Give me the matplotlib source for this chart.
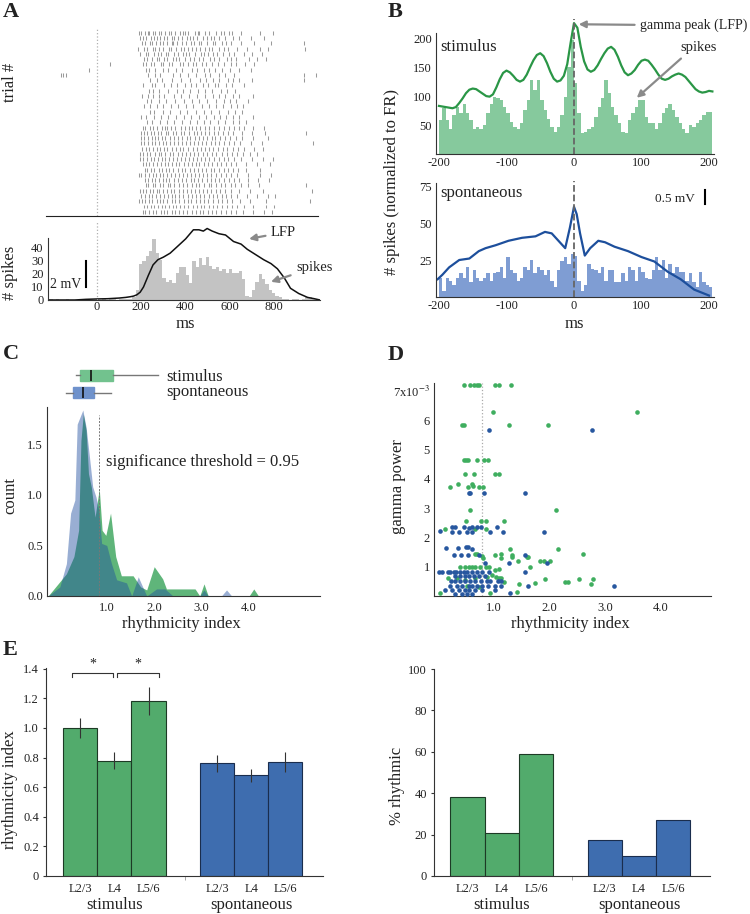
import matplotlib
matplotlib.use("Agg")
import matplotlib.pyplot as plt
from matplotlib.lines import Line2D
import numpy as np

plt.rcParams['font.family'] = ['Liberation Serif', 'DejaVu Serif']
plt.rcParams['mathtext.fontset'] = 'stix'
plt.rcParams['text.color'] = '#222222'
plt.rcParams['axes.edgecolor'] = '#333333'
plt.rcParams['xtick.color'] = '#333333'
plt.rcParams['ytick.color'] = '#333333'
plt.rcParams['xtick.labelcolor'] = '#222222'
plt.rcParams['ytick.labelcolor'] = '#222222'

# ---------------- data ----------------
# A: raster (spike times in ms, one list per trial)
raster = [
    [190, 199, 214, 229, 233, 251, 262, 281, 290, 307, 326, 335, 351, 372, 389, 395, 412, 440, 457, 462, 489, 503, 538, 560, 574, 597, 608, 648, 736, 793],
    [195, 208, 220, 244, 256, 271, 285, 303, 317, 338, 349, 366, 381, 404, 417, 431, 452, 479, 494, 516, 527, 551, 579, 612, 640, 695, 751],
    [202, 217, 238, 247, 266, 284, 296, 314, 337, 343, 361, 384, 399, 423, 436, 458, 470, 498, 521, 533, 562, 582, 603, 651, 710, 785, 934],
    [186, 213, 226, 251, 260, 279, 298, 325, 334, 356, 378, 391, 409, 428, 447, 465, 486, 507, 519, 548, 571, 590, 631, 675, 733, 770, 937],
    [194, 222, 231, 255, 273, 288, 311, 321, 347, 363, 386, 402, 415, 441, 468, 481, 499, 524, 539, 566, 597, 618, 661, 698, 745],
    [211, 227, 246, 268, 280, 302, 316, 342, 355, 371, 397, 420, 437, 459, 476, 510, 529, 552, 586, 604, 629, 684, 722, 760],
    [60, 205, 219, 243, 257, 286, 299, 326, 340, 372, 388, 411, 431, 448, 473, 492, 518, 545, 573, 606, 628, 669, 707],
    [-36, 222, 236, 262, 297, 319, 358, 383, 427, 451, 484, 506, 534, 563, 601, 642, 693],
    [-163, -155, -140, 228, 259, 283, 341, 376, 412, 448, 487, 511, 552, 579, 618, 934, 989],
    [239, 271, 292, 336, 379, 418, 466, 490, 521, 548, 589, 611, 642, 701, 936],
    [207, 246, 263, 301, 332, 361, 397, 424, 446, 478, 502, 533, 547, 581, 607, 663],
    [233, 252, 279, 318, 359, 388, 421, 456, 489, 517, 559, 586, 622],
    [204, 229, 253, 277, 302, 347, 379, 414, 452, 487, 522, 549, 576, 612, 640, 705],
    [227, 244, 278, 311, 353, 392, 427, 461, 495, 538, 571, 599, 627, 683],
    [213, 238, 268, 296, 335, 367, 402, 433, 473, 505, 538, 567, 603, 631, 658],
    [237, 258, 297, 331, 372, 404, 445, 481, 513, 552, 590, 623, 652],
    [199, 221, 255, 286, 322, 357, 391, 423, 462, 493, 528, 556, 583, 614, 641, 702],
    [224, 249, 283, 317, 348, 384, 420, 452, 482, 511, 547, 578, 612, 640, 671],
    [208, 216, 238, 252, 269, 291, 305, 317, 333, 352, 378, 396, 413, 429, 447, 464, 489, 507, 528, 549, 572, 594, 619, 640, 664, 702, 752],
    [196, 212, 226, 242, 258, 273, 290, 309, 322, 343, 358, 378, 394, 414, 435, 451, 469, 489, 506, 526, 547, 570, 589, 612, 653, 698, 757, 941],
    [197, 210, 228, 246, 259, 275, 294, 308, 327, 349, 366, 383, 405, 421, 440, 462, 479, 495, 517, 534, 556, 577, 600, 628, 652, 704, 772],
    [200, 213, 231, 247, 263, 281, 296, 312, 331, 349, 364, 383, 401, 419, 438, 457, 474, 492, 512, 531, 549, 571, 593, 618, 647, 695, 742, 976],
    [203, 221, 233, 250, 271, 284, 303, 316, 338, 355, 374, 389, 409, 433, 450, 468, 487, 504, 523, 544, 568, 587, 611, 635, 662, 707, 748],
    [193, 207, 224, 240, 263, 277, 289, 306, 329, 341, 364, 384, 399, 418, 436, 455, 478, 497, 519, 538, 563, 584, 607, 631, 657, 691, 723],
    [194, 207, 225, 242, 258, 276, 292, 308, 324, 343, 359, 378, 396, 414, 433, 452, 471, 489, 507, 527, 549, 571, 592, 616, 650, 697, 747, 796],
    [209, 219, 236, 254, 272, 288, 306, 321, 339, 356, 371, 392, 410, 430, 448, 461, 483, 501, 519, 540, 561, 583, 606, 629, 670, 722, 782],
    [215, 226, 243, 257, 280, 292, 311, 323, 344, 367, 381, 398, 417, 438, 457, 474, 491, 512, 529, 551, 574, 591, 613, 637, 672, 737],
    [189, 200, 216, 232, 251, 267, 284, 299, 314, 333, 352, 368, 386, 406, 423, 440, 461, 478, 497, 516, 536, 558, 580, 605, 633, 680, 737, 786],
    [218, 229, 247, 262, 279, 297, 312, 326, 348, 365, 383, 403, 422, 439, 457, 473, 494, 513, 531, 552, 573, 596, 617, 642, 683, 727, 777],
    [219, 230, 251, 263, 282, 299, 318, 329, 346, 369, 387, 404, 427, 448, 459, 481, 503, 514, 537, 558, 579, 602, 624, 648, 683, 731, 941],
    [192, 205, 221, 238, 253, 268, 281, 298, 317, 333, 349, 369, 387, 406, 425, 441, 459, 478, 496, 514, 535, 556, 578, 603, 642, 688, 747, 971],
    [199, 214, 232, 248, 266, 283, 301, 318, 336, 353, 371, 389, 409, 428, 447, 466, 484, 503, 523, 542, 562, 583, 605, 631, 677, 722, 772, 801],
    [189, 204, 218, 236, 249, 268, 283, 297, 314, 337, 352, 371, 392, 408, 425, 446, 463, 484, 502, 521, 545, 563, 586, 608, 644, 692, 762, 962],
    [212, 224, 242, 256, 275, 291, 304, 323, 341, 357, 376, 391, 412, 433, 449, 467, 484, 505, 524, 541, 562, 585, 609, 633, 661, 705, 762, 800],
    [206, 218, 236, 251, 266, 286, 301, 317, 337, 352, 369, 389, 407, 426, 445, 463, 480, 499, 518, 538, 559, 580, 602, 627, 657, 702, 752, 791],
]

# A: PSTH, 15 ms bins starting at -215 ms
psth_start = -215
psth_width = 15
psth_counts = [1, 0, 1, 0, 0, 1, 0, 0, 0, 1, 0, 0, 0, 0, 1, 0, 1, 0, 1, 1, 0, 1, 1, 1, 1, 2,
               8, 28, 30, 34, 38, 47, 36, 31, 17, 14, 15, 13, 21, 25, 25, 19, 13, 30, 25, 32,
               27, 33, 26, 24, 25, 22, 24, 21, 24, 21, 21, 22, 16, 3, 2, 8, 14, 20, 16, 12,
               8, 5, 3, 2, 1, 1, 0, 1, 1, 0, 1, 2, 2, 1, 1]
# A: LFP trace (in PSTH units)
lfp_ms = [-222, -150, -100, -50, 0, 50, 100, 130, 150, 165, 180, 195, 210, 232, 253, 275, 300,
          330, 362, 400, 435, 460, 480, 497, 520, 550, 580, 616, 650, 678, 715, 752, 785, 814,
          845, 873, 910, 950, 980, 1006]
lfp_val = [0, 0, 0, 0.5, 0.8, 1, 1.5, 2, 2.5, 3, 4, 6, 10, 19, 27, 31, 33, 36, 41, 47, 54, 54,
           53, 55, 53, 51, 50, 45, 43, 39, 35, 31, 28, 24, 17, 9, 5, 2, 1, 0]

# B: spike-triggered histograms, 5 ms bins from -200 ms
sta_start = -200
sta_width = 5
stim_spikes = [59, 79, 59, 44, 67, 82, 70, 87, 70, 59, 44, 47, 44, 50, 70, 87, 99, 96, 93, 82,
               70, 56, 47, 44, 53, 76, 93, 128, 110, 128, 93, 76, 61, 47, 38, 47, 67, 99, 151, 197,
               122, 70, 36, 38, 44, 47, 64, 82, 96, 128, 105, 82, 67, 53, 38, 36, 59, 70, 82, 93,
               93, 64, 53, 53, 44, 53, 70, 79, 87, 76, 64, 53, 44, 36, 50, 47, 53, 59, 67, 73, 73]
spont_spikes = [13, 4, 13, 11, 8, 13, 16, 13, 20, 10, 18, 13, 11, 13, 16, 11, 16, 17, 20, 13,
                27, 18, 16, 11, 13, 20, 18, 25, 16, 20, 18, 15, 18, 11, 7, 18, 24, 27, 22, 29,
                28, 11, 4, 8, 22, 19, 18, 16, 20, 11, 18, 18, 10, 10, 16, 11, 20, 18, 11, 20,
                17, 13, 12, 18, 27, 18, 25, 13, 22, 16, 20, 17, 17, 11, 16, 10, 7, 17, 10, 8, 7]
stim_lfp = [83, 82, 81, 80, 79, 81, 88, 96, 105, 111, 113, 112, 108, 104, 100, 99, 103, 115, 129, 140,
            144, 141, 135, 128, 125, 128, 137, 150, 162, 171, 174, 169, 157, 142, 130, 125, 127, 135, 155, 192,
            226, 218, 185, 160, 146, 142, 145, 153, 164, 174, 182, 185, 180, 168, 153, 141, 136, 139, 145, 154,
            161, 163, 161, 154, 146, 137, 130, 128, 130, 134, 137, 139, 137, 133, 126, 119, 112, 108, 106, 107,
            109, 108]
spont_lfp_ms = [-202, -195, -185, -170, -155, -141, -131, -116, -97, -77, -57, -43, -33, -23, -13, -6,
                0, 4, 9, 16, 24, 36, 46, 60, 80, 100, 119, 139, 158, 178, 200]
spont_lfp = [12, 15, 20, 25, 26, 31, 33, 35, 38, 40, 41, 44, 43, 38, 33, 47, 61, 56, 43, 28, 33, 38,
             37, 34, 31, 27, 24, 17, 12, 5, 1]

# C: rhythmicity index distributions
stim_ri_x = [-0.26, 0.13, 0.29, 0.39, 0.44, 0.49, 0.55, 0.60, 0.66, 0.74, 0.83, 0.89, 0.97, 1.07,
             1.18, 1.30, 1.55, 1.71, 1.84, 2.00, 2.18, 2.26, 2.87, 2.97, 3.06, 3.15, 4.02, 4.12,
             4.22, 5.52]
stim_ri_y = [0, 0.22, 0.39, 0.65, 1.54, 1.80, 1.64, 1.21, 1.08, 0.78, 1.06, 0.65, 0.60, 0.82,
             0.39, 0.20, 0.20, 0.09, 0.06, 0.29, 0.17, 0.07, 0.07, 0, 0.12, 0, 0, 0.07, 0, 0]
spont_ri_x = [-0.26, -0.01, 0.13, 0.22, 0.31, 0.36, 0.48, 0.55, 0.62, 0.69, 0.76, 0.82, 0.88, 0.99,
              1.09, 1.20, 1.41, 1.52, 1.66, 1.84, 2.05, 2.23, 2.40, 2.97, 3.06, 3.15, 3.43, 3.54,
              3.65, 5.52]
spont_ri_y = [0, 0.09, 0.32, 0.82, 0.95, 1.70, 1.84, 1.67, 1.38, 1.08, 0.98, 0.85, 0.52, 0.50,
              0.32, 0.16, 0.13, 0, 0.19, 0, 0.07, 0.07, 0, 0, 0.06, 0, 0, 0.06, 0, 0]
stim_box = dict(whislo=0.33, q1=0.42, med=0.65, q3=1.13, whishi=2.09)
spont_box = dict(whislo=0.12, q1=0.28, med=0.48, q3=0.72, whishi=1.08)
threshold = 0.83

# D: rhythmicity index vs gamma power
stim_pts_x = [0.46, 0.58, 0.64, 0.70, 0.74, 1.02, 1.09, 1.32,
              0.99, 0.44, 0.47, 1.27, 1.98, 3.57,
              0.46, 0.50, 0.54, 0.70, 0.82, 0.90,
              0.49, 0.65, 1.02, 1.10,
              0.22, 0.36, 0.54, 0.62, 0.63, 0.74, 0.81,
              0.58, 2.11,
              0.50, 0.77, 0.86, 1.18,
              0.12, 0.67, 0.87,
              0.67, 0.71, 0.79, 0.81, 1.03, 1.13, 1.33, 1.14, 1.30, 1.33, 1.59, 1.61, 1.66, 1.83, 1.90, 2.02, 2.16, 2.61, 1.44,
              0.40, 0.49, 0.56, 0.62, 0.67, 0.76, 0.86, 0.91, 1.02, 1.10,
              0.18, 0.34, 0.48, 0.67, 0.88, 0.97, 1.04, 1.09, 1.14, 1.19, 1.46, 1.74, 1.93, 2.28, 2.34, 2.53, 2.74, 2.78,
              0.04, 0.94, 1.42, 0.73, 0.52]
stim_pts_y = [7.2, 7.2, 7.2, 7.2, 7.2, 7.2, 7.2, 7.2,
              6.28, 5.83, 5.83, 5.83, 5.83, 6.28,
              4.64, 4.64, 4.64, 4.64, 4.64, 4.64,
              4.15, 4.15, 4.15, 4.15,
              3.73, 3.82, 3.73, 3.82, 3.76, 3.73, 3.73,
              2.93, 2.93,
              2.57, 2.57, 2.57, 2.57,
              2.27, 2.27, 2.27,
              1.45, 1.45, 1.36, 1.28, 1.40, 1.43, 1.40, 1.28, 1.59, 1.34, 1.34, 1.32, 1.00, 1.18, 1.18, 1.18, 1.59, 1.43, 1.18,
              1.0, 1.0, 1.0, 1.0, 1.0, 1.0, 1.0, 1.0, 0.89, 0.91,
              0.63, 0.63, 0.55, 0.63, 0.66, 0.72, 0.66, 0.60, 0.60, 0.49, 0.41, 0.43, 0.58, 0.49, 0.49, 0.58, 0.41, 0.58,
              0.09, 0.11, 0.13, 0.32, 0.34]
spont_pts_x = [0.91, 2.77, 0.83, 1.56, 0.55, 0.58,
               0.04, 0.26, 0.31, 0.46, 0.62, 0.70, 0.78, 1.06, 0.55,
               0.26, 0.38, 0.52, 0.61, 0.94, 1.17, 1.90,
               0.14, 0.36, 0.50, 0.54, 0.61,
               0.29, 0.42, 0.54, 0.73, 1.57,
               1.27, 1.96,
               0.02, 0.07, 0.18, 0.22, 0.28, 0.32, 0.40, 0.46, 0.52, 0.61, 0.70, 0.80, 0.91, 1.57, 0.85,
               0.31, 0.40, 0.48, 0.55, 0.64, 0.73, 0.85,
               0.24, 0.30, 0.40, 0.49, 0.58, 0.67, 0.78, 0.88, 0.94, 1.08, 1.14,
               0.22, 0.34, 0.44, 0.55, 0.62, 0.70, 0.80, 0.90, 1.03, 1.13, 1.62, 3.16,
               0.12, 0.25, 0.38, 0.48, 0.56, 0.66, 0.79, 1.02, 1.30,
               0.31, 0.44, 0.53, 0.61]
spont_pts_y = [5.68, 5.66, 3.5, 3.5, 3.5, 3.5,
               2.22, 2.36, 2.36, 2.36, 2.36, 2.36, 2.36, 2.36, 2.31,
               2.17, 2.17, 2.17, 2.17, 2.17, 2.17, 2.17,
               1.65, 1.65, 1.68, 1.68, 1.62,
               1.40, 1.40, 1.40, 1.40, 1.40,
               1.14, 1.11,
               0.83, 0.83, 0.83, 0.83, 0.83, 0.83, 0.83, 0.83, 0.83, 0.83, 0.83, 0.83, 0.83, 0.83, 1.11,
               0.68, 0.68, 0.68, 0.68, 0.68, 0.68, 0.68,
               0.51, 0.51, 0.51, 0.51, 0.51, 0.51, 0.51, 0.51, 0.51, 0.51, 0.51,
               0.35, 0.35, 0.35, 0.35, 0.35, 0.35, 0.35, 0.35, 0.35, 0.35, 0.35, 0.35,
               0.19, 0.19, 0.19, 0.19, 0.19, 0.19, 0.19, 0.19, 0.09,
               0.07, 0.07, 0.07, 0.07]

# E: per layer
layers = ['L2/3', 'L4', 'L5/6']
stim_pos = [0, 1, 2]
spont_pos = [4, 5, 6]
stim_ri_mean = [1.00, 0.78, 1.18]
stim_ri_err = [0.065, 0.055, 0.095]
spont_ri_mean = [0.76, 0.68, 0.77]
spont_ri_err = [0.058, 0.045, 0.068]
stim_pct = [38.0, 21.0, 58.7]
spont_pct = [17.3, 9.8, 26.9]

GREEN = '#52ab6c'
BLUE = '#3e6daf'

# ---------------- layout helpers (pixel boxes) ----------------
W, H = 750, 914
fig = plt.figure(figsize=(7.5, 9.14), dpi=100)


def rect(x0, y0, x1, y1):
    return [x0 / W, 1 - y1 / H, (x1 - x0) / W, (y1 - y0) / H]


def ftext(x, y, s, **kw):
    fig.text(x / W, 1 - y / H, s, **kw)


def fbar(x, y0, y1):
    fig.add_artist(Line2D([x / W, x / W], [1 - y0 / H, 1 - y1 / H], color='k', lw=1.5))


def clean(ax):
    ax.spines['top'].set_visible(False)
    ax.spines['right'].set_visible(False)
    ax.tick_params(length=0, labelsize=9, pad=3)
    ax.patch.set_alpha(0)


arrow = dict(arrowstyle='-|>', color='#8a8a8a', lw=1.6, mutation_scale=10, shrinkA=2, shrinkB=0)

# ---------------- A ----------------
axr = fig.add_axes(rect(46, 28, 318, 216))
axr.eventplot(raster, lineoffsets=list(range(len(raster))), linelengths=0.75,
              colors='#999999', linewidths=0.75)
axr.set_xlim(-231, 997)
axr.set_ylim(len(raster) - 0.2, -0.9)
axr.axvline(0, color='#b0b0b0', ls=':', lw=0.9)
for s in ['top', 'right', 'left']:
    axr.spines[s].set_visible(False)
axr.spines['bottom'].set_color('#222222')
axr.set_xticks([])
axr.set_yticks([])
axr.patch.set_alpha(0)

axh = fig.add_axes(rect(47.7, 222, 320, 300))
clean(axh)
edges = psth_start + psth_width * np.arange(len(psth_counts))
axh.bar(edges, psth_counts, width=psth_width, align='edge', color='#c3c3c3', lw=0)
axh.plot(lfp_ms, lfp_val, color='#111111', lw=1.1)
axh.axvline(0, color='#b0b0b0', ls=':', lw=0.9)
axh.set_xlim(-222, 1006)
axh.set_ylim(0, 60)
axh.spines['left'].set_bounds(0, 48)
axh.set_yticks([0, 10, 20, 30, 40])
axh.set_xticks([0, 200, 400, 600, 800])
axh.tick_params(axis='x', pad=1)
axh.annotate('LFP', xy=(686, 47), xytext=(785, 52), fontsize=10.5, va='center',
             arrowprops=arrow, annotation_clip=False)
axh.annotate('spikes', xy=(785, 14), xytext=(898, 25), fontsize=10.5, va='center',
             arrowprops=arrow, annotation_clip=False)
ftext(81, 285, '2 mV', fontsize=10, ha='right', va='center')
fbar(85.5, 261, 287)
ftext(3, 2, 'A', fontsize=16, fontweight='bold', va='top')
ftext(10, 82, 'trial #', fontsize=12, rotation=90, ha='center', va='center')
ftext(10, 273, '# spikes', fontsize=12, rotation=90, ha='center', va='center')
ftext(185, 324, 'ms', fontsize=12, ha='center', va='center')

# ---------------- B ----------------
sta_edges = sta_start + sta_width * np.arange(len(stim_spikes))
lfp_t = sta_start + sta_width * np.arange(len(stim_lfp))

axb1 = fig.add_axes(rect(436, 15, 714, 154))
clean(axb1)
axb1.bar(sta_edges, stim_spikes, width=sta_width, align='edge', color='#86c99d', lw=0)
axb1.plot(lfp_t, stim_lfp, color='#2a9646', lw=1.6)
axb1.axvline(0, ymax=0.97, color='#666666', ls='--', lw=1.3)
axb1.set_xlim(-204.4, 207.4)
axb1.set_ylim(0, 240)
axb1.spines['left'].set_bounds(0, 209)
axb1.set_yticks([50, 100, 150, 200])
axb1.set_xticks([-200, -100, 0, 100, 200])
axb1.set_xticklabels(['-200', '-100', '0', '100', '200'])
axb1.tick_params(axis='x', pad=2)
axb1.text(-198, 184, 'stimulus', fontsize=12, va='center')
axb1.annotate('gamma peak (LFP)', xy=(7, 224), xytext=(98, 222), fontsize=10, va='center',
              arrowprops=arrow, annotation_clip=False)
axb1.annotate('spikes', xy=(93, 97), xytext=(212, 184), fontsize=10.5, va='center', ha='right',
              arrowprops=dict(arrow, relpos=(0.15, 0.0)), annotation_clip=False)

axb2 = fig.add_axes(rect(436, 181, 714, 297))
clean(axb2)
axb2.bar(sta_edges, spont_spikes, width=sta_width, align='edge', color='#7f9dd3', lw=0)
axb2.plot(spont_lfp_ms, spont_lfp, color='#1d4f9c', lw=1.6)
axb2.axvline(0, color='#666666', ls='--', lw=1.3)
axb2.set_xlim(-204.4, 207.4)
axb2.set_ylim(0, 78.4)
axb2.spines['left'].set_bounds(0, 77)
axb2.set_yticks([25, 50, 75])
axb2.set_xticks([-200, -100, 0, 100, 200])
axb2.set_xticklabels(['-200', '-100', '0', '100', '200'])
axb2.tick_params(axis='x', pad=2)
axb2.text(-198, 70, 'spontaneous', fontsize=12, va='center')
ftext(695, 199, '0.5 mV', fontsize=9.5, ha='right', va='center')
fbar(705, 190, 204)
ftext(388, 2, 'B', fontsize=16, fontweight='bold', va='top')
ftext(392, 182, '# spikes (normalized to FR)', fontsize=12, rotation=90, ha='center', va='center')
ftext(574, 324, 'ms', fontsize=12, ha='center', va='center')

# ---------------- C ----------------
axc = fig.add_axes(rect(47, 407, 320, 596))
clean(axc)
axc.fill_between(stim_ri_x, stim_ri_y, color='#5fb57a', lw=0)
axc.fill_between(spont_ri_x, spont_ri_y, color='#1e4d9e', alpha=0.45, lw=0)
axc.axvline(threshold, ymax=0.96, color='#777777', ls=(0, (2, 1.5)), lw=0.7)
axc.set_xlim(-0.283, 5.53)
axc.set_ylim(0, 1.87)
axc.set_yticks([0, 0.5, 1.0, 1.5])
axc.set_yticklabels(['0.0', '0.5', '1.0', '1.5'])
axc.set_xticks([1, 2, 3, 4])
axc.set_xticklabels(['1.0', '2.0', '3.0', '4.0'])
axc.tick_params(axis='x', pad=4)
axc.text(0.97, 1.33, 'significance threshold = 0.95', fontsize=12, va='center')

axbox = fig.add_axes(rect(47, 366, 320, 402))
axbox.set_xlim(-0.283, 5.53)
axbox.set_ylim(-0.55, 1.55)
bp = axbox.bxp([dict(spont_box, fliers=[]), dict(stim_box, fliers=[])], positions=[0, 1],
               vert=False, widths=0.62, showcaps=False, showfliers=False, patch_artist=True)
bp['boxes'][0].set(facecolor='#6f92cc', edgecolor='#6f92cc')
bp['boxes'][1].set(facecolor='#72c28e', edgecolor='#72c28e')
for wl in bp['whiskers']:
    wl.set(color='#777777', lw=1)
for m in bp['medians']:
    m.set(color='#111111', lw=1.2)
axbox.axis('off')
ftext(166, 377, 'stimulus', fontsize=12, va='center')
ftext(166, 392, 'spontaneous', fontsize=12, va='center')
ftext(3, 344, 'C', fontsize=16, fontweight='bold', va='top')
ftext(10, 495, 'count', fontsize=12, rotation=90, ha='center', va='center')
ftext(181, 624, 'rhythmicity index', fontsize=12, ha='center', va='center')

# ---------------- D ----------------
axd = fig.add_axes(rect(434, 383, 711, 596))
clean(axd)
axd.axvline(0.8, color='#aaaaaa', ls=':', lw=0.9)
axd.scatter(stim_pts_x, stim_pts_y, s=11, color='#3fae5f', lw=0, clip_on=False, zorder=3)
axd.scatter(spont_pts_x, spont_pts_y, s=11, color='#27579f', lw=0, clip_on=False, zorder=3)
axd.set_xlim(-0.07, 4.9)
axd.set_ylim(0, 7.27)
axd.set_yticks([1, 2, 3, 4, 5, 6, 7])
axd.set_yticklabels(['1', '2', '3', '4', '5', '6', r'7x10$^{-3}$'])
axd.set_xticks([1, 2, 3, 4])
axd.set_xticklabels(['1.0', '2.0', '3.0', '4.0'])
axd.tick_params(axis='x', pad=4)
ftext(388, 345, 'D', fontsize=16, fontweight='bold', va='top')
ftext(398, 487, 'gamma power', fontsize=12, rotation=90, ha='center', va='center')
ftext(570, 624, 'rhythmicity index', fontsize=12, ha='center', va='center')


# ---------------- E ----------------
def layer_bars(ax, stim_vals, spont_vals, stim_err=None, spont_err=None):
    ax.bar(stim_pos, stim_vals, width=1.0, color=GREEN, edgecolor='#1d3a25', lw=0.8)
    ax.bar(spont_pos, spont_vals, width=1.0, color=BLUE, edgecolor='#1a2d4d', lw=0.8)
    if stim_err is not None:
        ax.errorbar(stim_pos, stim_vals, yerr=stim_err, fmt='none', ecolor='#333333', elinewidth=0.8)
        ax.errorbar(spont_pos, spont_vals, yerr=spont_err, fmt='none', ecolor='#333333', elinewidth=0.8)
    ax.set_xticks(stim_pos + spont_pos)
    ax.set_xticklabels(layers + layers)
    ax.set_xticks([3.05], minor=True)
    ax.tick_params(axis='x', which='minor', length=3, color='#999999')
    ax.tick_params(axis='x', which='major', pad=5)
    tr = ax.get_xaxis_transform()
    ax.text(1, -0.14, 'stimulus', transform=tr, fontsize=12, ha='center', va='center')
    ax.text(5, -0.14, 'spontaneous', transform=tr, fontsize=12, ha='center', va='center')


axe1 = fig.add_axes(rect(46, 668, 323, 876))
clean(axe1)
layer_bars(axe1, stim_ri_mean, spont_ri_mean, stim_ri_err, spont_ri_err)
axe1.set_xlim(-1.0, 7.1)
axe1.set_ylim(0, 1.405)
axe1.set_yticks([0, 0.2, 0.4, 0.6, 0.8, 1.0, 1.2, 1.4])
axe1.set_yticklabels(['0', '0.2', '0.4', '0.6', '0.8', '1.0', '1.2', '1.4'])
axe1.tick_params(axis='y', length=2)
for x0, x1 in [(-0.25, 0.97), (1.09, 2.3)]:
    axe1.plot([x0, x0, x1, x1], [1.345, 1.37, 1.37, 1.345], color='#333333', lw=0.8, clip_on=False)
    axe1.text((x0 + x1) / 2, 1.43, '*', fontsize=10, ha='center', va='center', clip_on=False)
ftext(3, 640, 'E', fontsize=16, fontweight='bold', va='top')
ftext(10, 790, 'rhythmicity index', fontsize=12, rotation=90, ha='center', va='center')

axe2 = fig.add_axes(rect(434, 669, 710, 876))
clean(axe2)
layer_bars(axe2, stim_pct, spont_pct)
axe2.set_xlim(-0.98, 7.07)
axe2.set_ylim(0, 100)
axe2.set_yticks([0, 20, 40, 60, 80, 100])
axe2.tick_params(axis='y', length=2)
ftext(397, 786, '% rhythmic', fontsize=12, rotation=90, ha='center', va='center')

fig.savefig('out.png', dpi=100)
